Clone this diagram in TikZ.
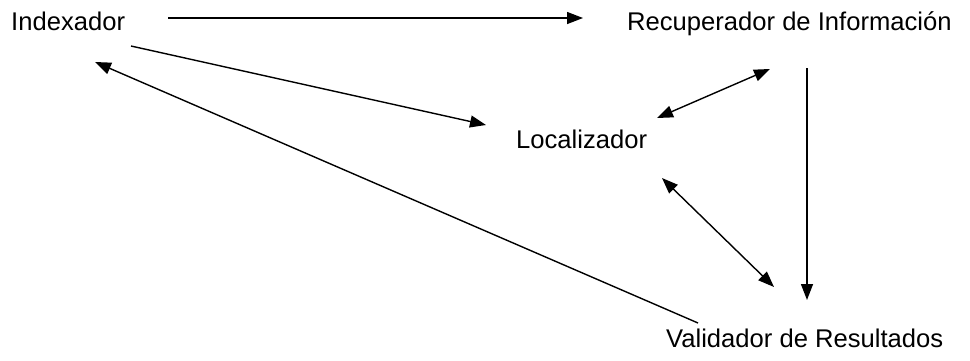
\documentclass[tikz,border=0pt]{standalone}
\usepackage{fontspec}
\setmainfont{Liberation Sans}
\usetikzlibrary{arrows.meta}
\begin{document}
\begin{tikzpicture}[x=1pt,y=-1pt,
  label/.style={anchor=base west,inner sep=0pt,font=\fontsize{25.6}{30}\selectfont},
  link/.style={line width=1.4pt,-{Triangle[length=16pt,width=12pt]}},
  twoway/.style={line width=1.4pt,{Triangle[length=16pt,width=12pt]}-{Triangle[length=16pt,width=12pt]}}]
  \useasboundingbox (0,0) rectangle (970,360);

  % component names
  \node[label] (idx) at (11,30) {Indexador};
  \node[label] (rec) at (627,30) {Recuperador de Información};
  \node[label] (loc) at (516,148) {Localizador};
  \node[label] (val) at (666,347) {Validador de Resultados};

  % free ends of the connectors
  \coordinate (idxE) at (168,18);
  \coordinate (recW) at (583,18);
  \coordinate (idxS) at (131,46);
  \coordinate (locW) at (486,125);
  \coordinate (idxA) at (95,62);
  \coordinate (valW) at (698,323);
  \coordinate (locNE) at (657,118);
  \coordinate (recSW) at (770,69);
  \coordinate (locSE) at (662,178);
  \coordinate (valNW) at (774,287);
  \coordinate (recS) at (807,68);
  \coordinate (valN) at (807,300);

  % connectors
  \draw[link] (idxE) -- (recW);
  \draw[link] (idxS) -- (locW);
  \draw[link] (valW) -- (idxA);
  \draw[twoway] (locNE) -- (recSW);
  \draw[twoway] (locSE) -- (valNW);
  \draw[link] (recS) -- (valN);
\end{tikzpicture}
\end{document}
